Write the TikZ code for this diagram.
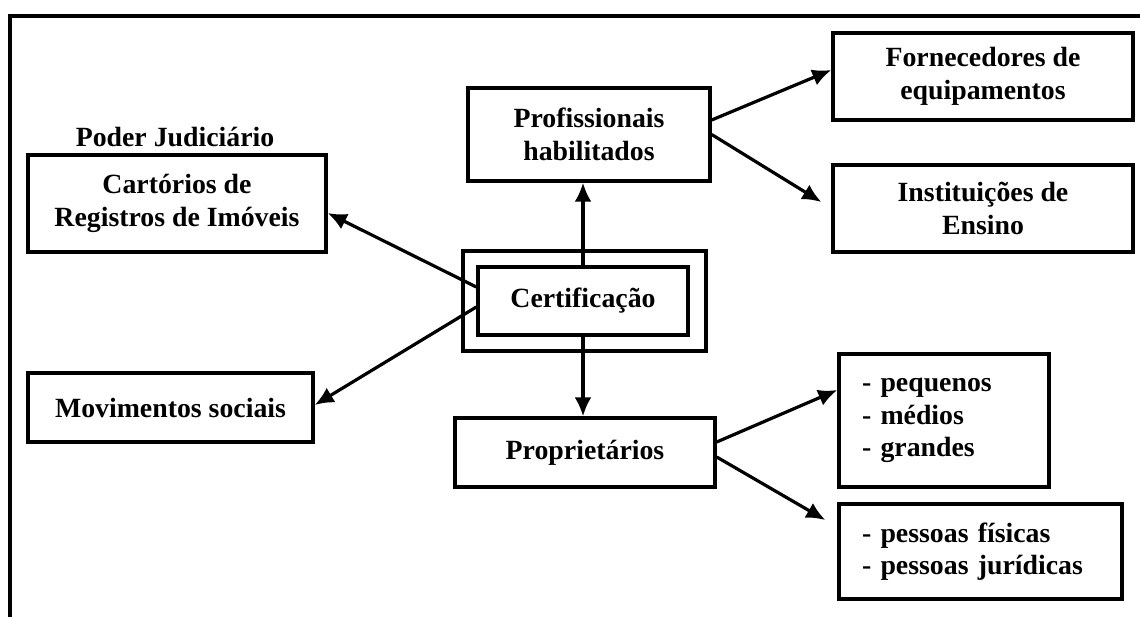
\documentclass[tikz,border=0pt]{standalone}
\usepackage{fontspec}
\setmainfont{Liberation Serif}
\usepackage{xcolor}
\usetikzlibrary{shapes,arrows.meta,positioning,fit,calc}

\newcommand{\fonteDiag}{\fontsize{13.9}{16.25}\selectfont\bfseries}

\tikzset{
    caixa/.style={rectangle, draw, line width=1.7pt, font=\fonteDiag, align=center},
    seta/.style={line width=1.6pt}
}

\begin{document}
\begin{tikzpicture}[x=0.5pt, y=-0.5pt, >={Latex[length=9.5pt,width=8.5pt]},
    every node/.style={font=\fonteDiag}]
    \useasboundingbox (0,0) rectangle (1140,617);

    % moldura
    \draw [line width=2.2pt] (10,617) -- (10,16) -- (1140,16);

    \node (certout) [caixa, minimum width=121.5pt, minimum height=50pt] at (584.5,301) {};
    \node (cert) [caixa, minimum width=105pt, minimum height=34pt] at (583,301) {Certifica\c{c}\~ao};

    \node (prof) [caixa, minimum width=121pt, minimum height=46.5pt] at (589,134.5) {Profissionais\\habilitados};
    \node (forn) [caixa, minimum width=150pt, minimum height=43.5pt] at (983,76.5) {Fornecedores de\\equipamentos};
    \node (inst) [caixa, minimum width=150pt, minimum height=43.5pt] at (983,208.5) {Institui\c{c}\~oes de\\Ensino};

    \node (cart) [caixa, minimum width=149pt, minimum height=48.5pt] at (177,203.5) {Cart\'orios de\\Registros de Im\'oveis};
    \node (poder) at (175,137) {Poder Judici\'ario};
    \node (mov) [caixa, minimum width=142.5pt, minimum height=34.5pt] at (170.5,407.5) {Movimentos sociais};

    \node (prop) [caixa, minimum width=130pt, minimum height=34.5pt] at (585,452.5) {Propriet\'arios};
    \node (porte) [caixa, align=left, text width=82pt, inner xsep=11.5pt, minimum height=66.5pt] at (944,420.5) {- pequenos\\- m\'edios\\- grandes};
    \node (pessoa) [caixa, align=left, text width=118.5pt, inner xsep=11.5pt, minimum height=47.5pt] at (980.5,551.5) {- pessoas f\'isicas\\- pessoas jur\'idicas};

    \draw [->, seta] (cert.north) -- (cert.north |- prof.south);
    \draw [->, seta] (cert.south) -- (cert.south |- prop.north);
    \draw [->, seta] ([yshift=7pt]cert.west) -- ([yshift=-4.75pt]cart.east);
    \draw [->, seta] ([yshift=-3pt]cert.west) -- ([yshift=1.25pt]mov.east);
    \draw [->, seta] ([yshift=7.25pt]prof.east) -- ([yshift=3.25pt]forn.west);
    \draw [->, seta] (prof.east) -- ([xshift=-5pt,yshift=3.25pt]inst.west);
    \draw [->, seta] ([yshift=5.25pt]prop.east) -- ([yshift=15.25pt]porte.west);
    \draw [->, seta] ([yshift=-2.25pt]prop.east) -- ([xshift=-6pt,yshift=15.75pt]pessoa.west);
\end{tikzpicture}
\end{document}
